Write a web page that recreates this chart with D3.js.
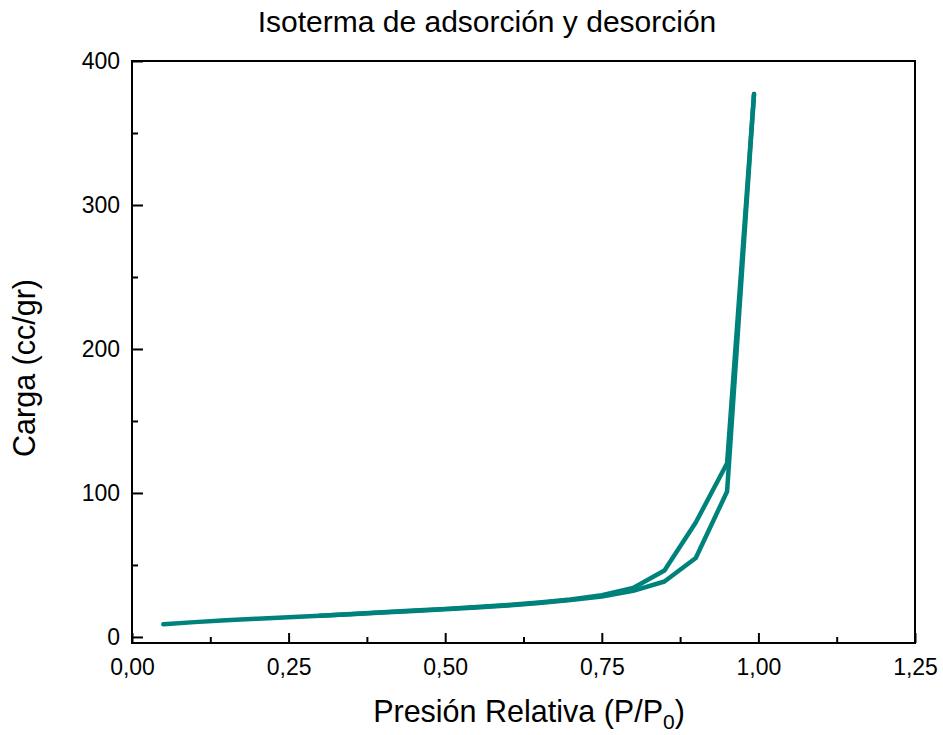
<!DOCTYPE html>
<html>
<head>
<meta charset="utf-8">
<script src="https://cdn.jsdelivr.net/npm/d3@7"></script>
<style>
  body { margin: 0; background: #fff; }
  text { font-family: "Liberation Sans", Arial, sans-serif; fill: #000; }
</style>
</head>
<body>
<div id="chart"></div>
<script>
// adsorcion (rama inferior) y desorcion (rama superior)
var presAds = [0.05, 0.10, 0.15, 0.20, 0.25, 0.30, 0.35, 0.40, 0.45, 0.50, 0.55, 0.60, 0.65, 0.70, 0.75, 0.80, 0.85, 0.90, 0.95, 0.993];
var cargaAds = [8.8, 10.3, 11.6, 12.7, 13.7, 14.7, 15.7, 16.9, 18.0, 19.2, 20.4, 21.8, 23.5, 25.6, 28.0, 32.0, 38.5, 54.8, 101, 377];
var presDes = [0.993, 0.95, 0.90, 0.85, 0.80, 0.75, 0.70, 0.65, 0.60, 0.55, 0.50, 0.45, 0.40, 0.35, 0.30];
var cargaDes = [377, 120.6, 79.5, 46.2, 34.0, 29.0, 26.0, 24.0, 22.2, 20.8, 19.5, 18.3, 17.1, 15.9, 14.8];

var xTicks = [0, 0.25, 0.5, 0.75, 1.0, 1.25];
var xMinor = [0.125, 0.375, 0.625, 0.875, 1.125];
var yTicks = [0, 100, 200, 300, 400];
var yMinor = [50, 150, 250, 350];

var width = 943, height = 735;
var mLeft = 132, mRight = 915, mTop = 61, mBottom = 643;
var color = "#00827c";

var svg = d3.select("#chart").append("svg")
  .attr("width", width)
  .attr("height", height);

var x = d3.scaleLinear().domain([0, 1.25]).range([mLeft, mRight]);
var y = d3.scaleLinear().domain([-4.2, 400]).range([mBottom, mTop]);

function coma(d) { return d.toFixed(2).replace(".", ","); }

// ejes
var xAxis = svg.append("g")
  .attr("transform", "translate(0," + mBottom + ")")
  .call(d3.axisBottom(x).tickValues(xTicks).tickSizeInner(-10).tickSizeOuter(0).tickPadding(16).tickFormat(coma));
svg.append("g")
  .attr("transform", "translate(0," + mBottom + ")")
  .call(d3.axisBottom(x).tickValues(xMinor).tickSizeInner(-6).tickSizeOuter(0).tickFormat(""));

var yAxis = svg.append("g")
  .attr("transform", "translate(" + mLeft + ",0)")
  .call(d3.axisLeft(y).tickValues(yTicks).tickSizeInner(-11).tickSizeOuter(0).tickFormat(d3.format("d")));
svg.append("g")
  .attr("transform", "translate(" + mLeft + ",0)")
  .call(d3.axisLeft(y).tickValues(yMinor).tickSizeInner(-6).tickSizeOuter(0).tickFormat(""));

svg.selectAll(".domain").remove();
svg.selectAll(".tick line").attr("stroke", "#000").attr("stroke-width", 2);
svg.selectAll(".tick text").style("font-size", "23px").attr("fill", "#000");
yAxis.selectAll(".tick text").attr("x", -12);

// marco
svg.append("rect")
  .attr("x", mLeft).attr("y", mTop)
  .attr("width", mRight - mLeft).attr("height", mBottom - mTop)
  .attr("fill", "none").attr("stroke", "#000").attr("stroke-width", 2);

// curvas
var line = d3.line().x(function (d) { return x(d[0]); }).y(function (d) { return y(d[1]); });
var ads = presAds.map(function (p, i) { return [p, cargaAds[i]]; });
var des = presDes.map(function (p, i) { return [p, cargaDes[i]]; });

[ads, des].forEach(function (serie) {
  svg.append("path")
    .datum(serie)
    .attr("d", line)
    .attr("fill", "none")
    .attr("stroke", color)
    .attr("stroke-width", 4.5)
    .attr("stroke-linecap", "round")
    .attr("stroke-linejoin", "round");
});

// textos
svg.append("text")
  .attr("x", 487).attr("y", 32)
  .attr("text-anchor", "middle")
  .style("font-size", "30px")
  .text("Isoterma de adsorción y desorción");

var xl = svg.append("text")
  .attr("x", 529).attr("y", 722)
  .attr("text-anchor", "middle")
  .style("font-size", "30.5px");
xl.append("tspan").text("Presión Relativa (P/P");
xl.append("tspan").attr("dy", 7).style("font-size", "21px").text("0");
xl.append("tspan").attr("dy", -7).text(")");

svg.append("text")
  .attr("transform", "translate(35,368) rotate(-90)")
  .attr("text-anchor", "middle")
  .style("font-size", "30.5px")
  .text("Carga (cc/gr)");
</script>
</body>
</html>
